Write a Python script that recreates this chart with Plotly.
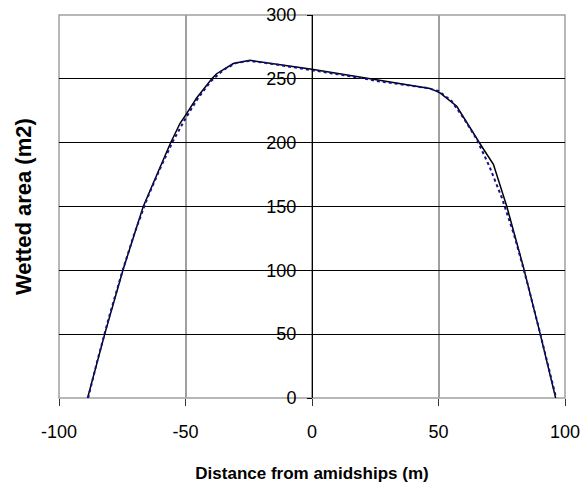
import plotly.graph_objects as go

# Solid curve (black)
solid_x = [-88.7, -81.8, -74.6, -66.7, -56.1, -52.2, -49.5, -45.6, -39.6, -37.7, -31.1, -24.5,
           0.0, 26.2, 46.6, 50.6, 57.2, 67.1, 71.7, 77.0, 83.5, 90.1, 96.3]
solid_y = [0, 51, 101, 150, 199, 215, 223, 235, 250, 254, 262, 264.5,
           257.5, 249, 242.5, 239, 228.5, 197, 183, 150, 103, 51, 0]

# Dashed curve (blue)
dash_x = [-88.5, -85, -80, -75, -70, -65, -60, -55, -50, -45, -40, -35, -30, -25, -20, -15, -10, -5,
          0, 5, 10, 15, 20, 25, 30, 35, 40, 45, 50, 55, 60, 65, 70, 75, 80, 85, 90, 95, 96.5]
dash_y = [0, 28, 65, 99, 130, 157, 180, 201, 219, 235, 248, 257, 262.5, 264, 263, 261.5, 260, 258.5,
          257, 255.5, 253.5, 252, 250.5, 248.5, 247, 245.5, 244, 243, 240.5, 233, 219, 203, 182, 157,
          127, 91, 52, 11, 0]

x_ticks = [-100, -50, 0, 50, 100]
y_ticks = [0, 50, 100, 150, 200, 250, 300]

FONT = "Liberation Sans, Arial, sans-serif"

fig = go.Figure()
fig.add_trace(go.Scatter(x=solid_x, y=solid_y, mode="lines",
                         line=dict(color="black", width=1.5),
                         showlegend=False, hoverinfo="skip"))
fig.add_trace(go.Scatter(x=dash_x, y=dash_y, mode="lines",
                         line=dict(color="#101090", width=2, dash="3px,3px"),
                         showlegend=False, hoverinfo="skip"))

fig.update_layout(
    width=588, height=483,
    margin=dict(l=59, r=23, t=15, b=85),
    paper_bgcolor="white", plot_bgcolor="white",
    xaxis=dict(
        range=[-100, 100], tickvals=x_ticks, ticktext=[str(v) for v in x_ticks],
        automargin=False, ticklabeloverflow="allow",
        showgrid=True, gridcolor="#a0a0a0", gridwidth=1.5,
        zeroline=False, showline=False,
        ticks="outside", ticklen=7, tickcolor="#333333", tickwidth=1,
        ticklabelstandoff=10,
        tickfont=dict(family=FONT, size=18, color="black"),
        title=dict(text="<b>Distance from amidships (m)</b>",
                   font=dict(family=FONT, size=17, color="black"), standoff=29),
    ),
    yaxis=dict(
        range=[0, 300], tickvals=y_ticks, ticktext=[str(v) for v in y_ticks],
        anchor="free", position=0.5, automargin=False, ticklabeloverflow="allow",
        showgrid=True, gridcolor="black", gridwidth=1,
        zeroline=False, showline=True, linecolor="black", linewidth=1,
        ticks="outside", ticklen=5, tickcolor="black",
        ticklabelstandoff=7,
        tickfont=dict(family=FONT, size=18, color="black"),
    ),
    annotations=[dict(text="<b>Wetted area (m2)</b>", textangle=-90,
                      xref="paper", yref="paper", x=-0.07, y=0.5,
                      xanchor="center", yanchor="middle", showarrow=False,
                      font=dict(family=FONT, size=22, color="black"))],
    shapes=[dict(type="rect", xref="paper", yref="paper", x0=0, x1=1, y0=0, y1=1,
                 line=dict(color="#a0a0a0", width=1.5), layer="below")],
)

fig.write_html("out.html", config={"displayModeBar": False},
               post_script="document.body.style.margin='0';")
